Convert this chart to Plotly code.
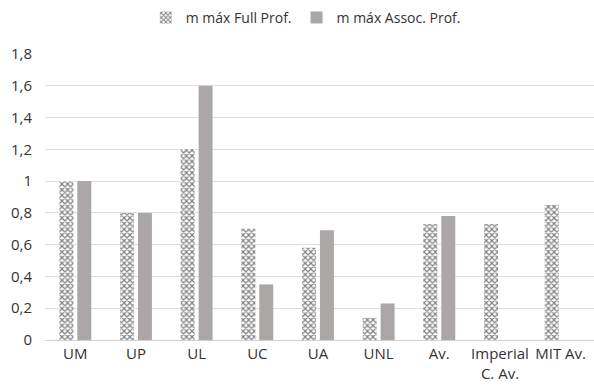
import plotly.graph_objects as go

categories = ["UM", "UP", "UL", "UC", "UA", "UNL", "Av.", "Imperial<br>C. Av.", "MIT Av."]
full_prof = [1.0, 0.8, 1.2, 0.7, 0.58, 0.14, 0.73, 0.73, 0.85]
assoc_prof = [1.0, 0.8, 1.6, 0.35, 0.69, 0.23, 0.78, None, None]
y_ticks = [0, 0.2, 0.4, 0.6, 0.8, 1, 1.2, 1.4, 1.6, 1.8]

text_color = "#333333"
font_family = "Open Sans, Liberation Sans, sans-serif"

fig = go.Figure()
fig.add_trace(go.Bar(
    name="m máx Full Prof.",
    x=categories,
    y=full_prof,
    marker=dict(
        color="white",
        line=dict(width=0),
        pattern=dict(shape="x", fgcolor="#000000", bgcolor="white",
                     size=4, solidity=0.5, fillmode="overlay"),
    ),
))
fig.add_trace(go.Bar(
    name="m máx Assoc. Prof.",
    x=categories,
    y=assoc_prof,
    marker=dict(color="#aba7a7", line=dict(width=0)),
))

fig.update_layout(
    width=594,
    height=391,
    margin=dict(l=45, r=0, t=54, b=51),
    paper_bgcolor="white",
    plot_bgcolor="white",
    separators=",.",
    barmode="group",
    bargap=0.41,
    bargroupgap=0.22,
    font=dict(family=font_family, size=14, color=text_color),
    legend=dict(
        orientation="h",
        x=0.475, xanchor="center",
        y=1.126, yanchor="middle",
        font=dict(size=14, color=text_color),
        itemwidth=30,
    ),
    xaxis=dict(
        range=[-0.5, 8.55],
        showgrid=False,
        showline=True,
        linecolor="#d0d0d0",
        linewidth=1,
        ticks="",
        tickfont=dict(size=15, color=text_color),
    ),
    yaxis=dict(
        range=[0, 1.8],
        tickvals=y_ticks,
        showgrid=True,
        gridcolor="#dedede",
        gridwidth=1,
        zeroline=False,
        showline=False,
        ticks="",
        ticklabelstandoff=12,
        tickfont=dict(size=15, color=text_color),
    ),
)

fig.write_html("out.html")
